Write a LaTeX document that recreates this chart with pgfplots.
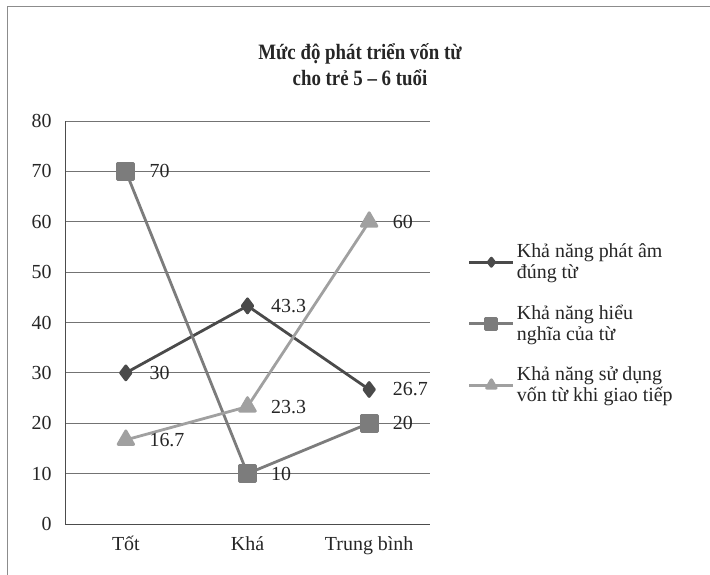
\documentclass[border=0pt]{standalone}
\usepackage{fontspec}
\setmainfont{Liberation Serif}
\newfontfamily\titlefont[FakeStretch=0.86]{Liberation Serif}
\usepackage{pgfplots}
\pgfplotsset{compat=1.18}
\definecolor{sA}{HTML}{4A4A4A}
\definecolor{sB}{HTML}{7C7C7C}
\definecolor{sC}{HTML}{A0A0A0}
\begin{document}
\begin{tikzpicture}[x=1bp,y=1bp]
\useasboundingbox (0,0) rectangle (710,575);
\fill[white] (0,0) rectangle (710,575);
\draw[black!45, line width=1bp] (7,0) -- (7,568) -- (710,568);
\node[font=\titlefont\bfseries\fontsize{22}{26}\selectfont, align=center, text=black!85] at (360,510) {Mức độ phát triển vốn từ\\cho trẻ 5 – 6 tuổi};
\begin{axis}[at={(65bp,51bp)}, anchor=south west, scale only axis, width=365bp, height=403bp,
  xmin=-0.5, xmax=2.5, ymin=0, ymax=80, ytick={0,10,...,80}, xtick={0,1,2},
  xticklabels={Tốt,Khá,Trung bình},
  axis x line=bottom, axis y line=left,
  axis line style={-, draw=black!70, line width=0.8bp},
  ymajorgrids, grid style={black!55, line width=0.8bp},
  major tick length=0pt,
  /pgf/number format/assume math mode=true,
  tick label style={font=\fontsize{20}{21}\selectfont, text=black!85},
  yticklabel style={xshift=-10bp},
  xticklabel style={yshift=-9bp},
  nodes near coords,
  every node near coord/.append style={anchor=west, xshift=19bp, font=\fontsize{20}{21}\selectfont, text=black!85},
  legend style={at={(1.095,0.705)}, anchor=north west, draw=none, fill=none,
    font=\fontsize{20}{21}\selectfont, row sep=21bp, cells={anchor=west, align=left}, text=black!85},
  legend cell align=left,
  legend image code/.code={\draw[mark repeat=2,mark phase=2,#1,line width=3bp] plot coordinates {(0bp,0bp) (22bp,0bp) (44bp,0bp)};},
  line join=round,
]
\addplot[sA, line width=2.8bp, mark=diamond*, mark size=7bp, mark options={fill=sA, draw=sA}, legend image post style={mark size=4bp}] coordinates {(0,30) (1,43.3) (2,26.7)};
\addlegendentry{Khả năng phát âm\\đúng từ}
\addplot[sB, line width=2.8bp, mark=square*, mark size=8bp, mark options={fill=sB, draw=sB}, legend image post style={mark size=5.5bp}] coordinates {(0,70) (1,10) (2,20)};
\addlegendentry{Khả năng hiểu\\nghĩa của từ}
\addplot[sC, line width=2.8bp, mark=triangle*, mark size=9bp, mark options={fill=sC, draw=sC}, legend image post style={mark size=5.5bp}] coordinates {(0,16.7) (1,23.3) (2,60)};
\addlegendentry{Khả năng sử dụng\\vốn từ khi giao tiếp}
\end{axis}
\end{tikzpicture}
\end{document}
